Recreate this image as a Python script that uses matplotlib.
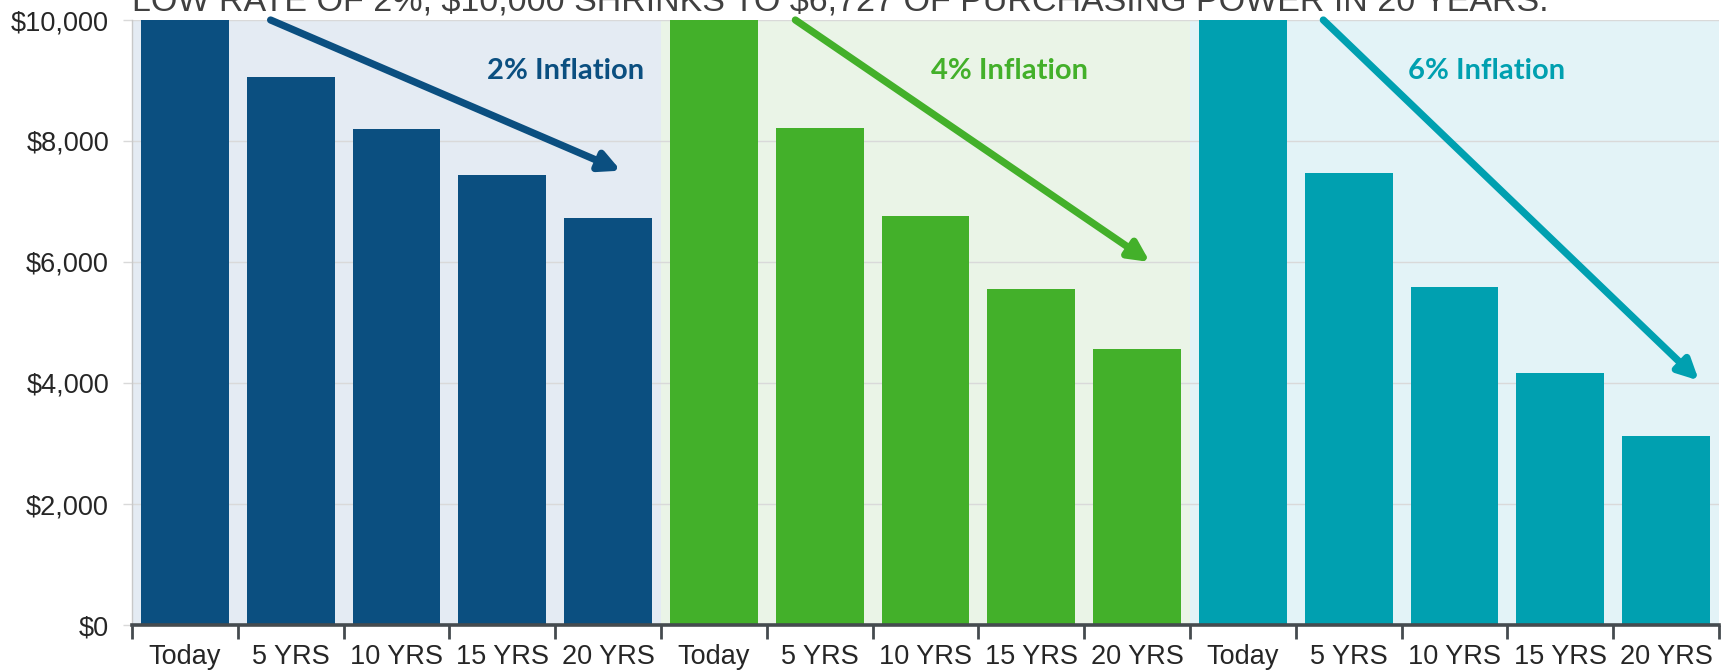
import numpy as np
import matplotlib
matplotlib.use("Agg")
import matplotlib.pyplot as plt
from matplotlib.ticker import FuncFormatter, FixedLocator

# ---- data ----
periods = ["Today", "5 YRS", "10 YRS", "15 YRS", "20 YRS"]
groups = ["2% Inflation", "4% Inflation", "6% Inflation"]
values_2 = [10000, 9057, 8203, 7430, 6730]
values_4 = [10000, 8219, 6756, 5553, 4564]
values_6 = [10000, 7473, 5584, 4173, 3118]
# trend arrows: start x, end x (category units within each group), end value
arrow_start_x = [0.81, 0.77, 0.76]
arrow_end_x = [4.12, 4.12, 4.31]
arrow_end_y = [7510, 6000, 4040]
label_x = [3.6, 2.79, 2.30]
title = "LOW RATE OF 2%, \\$10,000 SHRINKS TO \\$6,727 OF PURCHASING POWER IN 20 YEARS."

bar_colors = ["#0B4F80", "#43B02A", "#00A0B0"]
bg_colors = ["#E4EBF3", "#EAF4E7", "#E3F3F7"]

plt.rcParams['font.family'] = ["Liberation Sans", "DejaVu Sans"]

fig = plt.figure(figsize=(17.26, 6.70), dpi=100)
ax = fig.add_axes([132/1726, 1-625/670, (1719-132)/1726, (625-20)/670])

all_vals = [values_2, values_4, values_6]
n = len(periods)
for g, vals in enumerate(all_vals):
    x0 = g * n
    xs = np.arange(x0, x0 + n)
    ax.axvspan(x0 - 0.5, x0 + n - 0.5, color=bg_colors[g], zorder=0, lw=0)
    ax.bar(xs, vals, width=0.83, color=bar_colors[g], zorder=3)
    ax.text(x0 + label_x[g], 9150, groups[g], color=bar_colors[g], fontsize=21,
            fontweight='bold', family=["Lato", "DejaVu Sans"],
            ha='center', va='center', zorder=5)
    ax.annotate("", xy=(x0 + arrow_end_x[g], arrow_end_y[g]),
                xytext=(x0 + arrow_start_x[g], 10000),
                arrowprops=dict(arrowstyle='-|>', lw=5.2, color=bar_colors[g],
                                mutation_scale=30, shrinkA=0, shrinkB=0),
                zorder=4, annotation_clip=False)

ax.set_xlim(-0.5, 3 * n - 0.5)
ax.set_ylim(0, 10000)

ax.yaxis.set_major_locator(FixedLocator(np.arange(0, 10001, 2000)))
ax.yaxis.set_major_formatter(FuncFormatter(lambda v, p: "${:,.0f}".format(v)))
ax.grid(axis='y', color='#D9D9D9', lw=1, zorder=1)
ax.set_axisbelow(True)

ax.set_xticks(np.arange(3 * n))
ax.set_xticklabels(periods * 3)
ax.set_xticks(np.arange(-0.5, 3 * n, 1), minor=True)
ax.tick_params(axis='x', which='major', length=0, pad=14, labelsize=19.5,
               labelcolor='#262626')
ax.tick_params(axis='x', which='minor', length=10, width=2, color='#454B4F',
               direction='out')
ax.tick_params(axis='y', length=6.5, width=1, color='#D9D9D9', pad=10,
               labelsize=19.5, labelcolor='#262626')

for s in ['top', 'right']:
    ax.spines[s].set_visible(False)
ax.spines['left'].set_color('#C8C8C8')
ax.spines['left'].set_linewidth(1)
ax.spines['bottom'].set_color('#454B4F')
ax.spines['bottom'].set_linewidth(2.6)
ax.spines['bottom'].set_zorder(6)

fig.text(132/1726, 1 - 12/670, title, fontsize=24.5, color='#404040',
         ha='left', va='baseline')

fig.savefig("out.png", dpi=100)
